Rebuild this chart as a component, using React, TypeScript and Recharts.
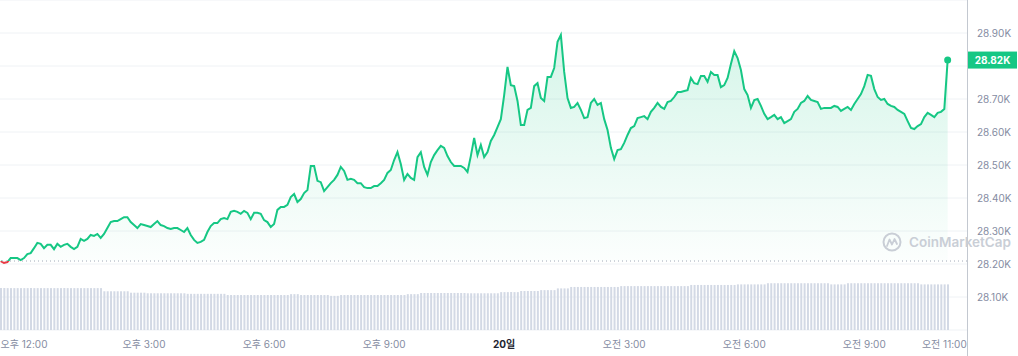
import {
  ComposedChart,
  Area,
  Bar,
  XAxis,
  YAxis,
  CartesianGrid,
  ReferenceLine,
  ReferenceDot,
} from "recharts";

// minutes relative to 오후 12:00 (19th); one point every 5 minutes
const START_MIN = -35;
const STEP_MIN = 5;

const PRICES = [
  28209, 28203, 28206, 28218, 28218, 28218, 28212, 28218, 28230, 28233,
  28248, 28264, 28261, 28248, 28258, 28258, 28245, 28261, 28252, 28258,
  28261, 28252, 28245, 28252, 28276, 28270, 28276, 28288, 28285, 28291,
  28279, 28291, 28309, 28327, 28330, 28330, 28336, 28342, 28342, 28327,
  28318, 28309, 28321, 28318, 28315, 28312, 28321, 28330, 28318, 28315,
  28309, 28306, 28309, 28309, 28303, 28297, 28309, 28288, 28273, 28264,
  28267, 28273, 28297, 28315, 28324, 28324, 28336, 28339, 28336, 28358,
  28361, 28358, 28352, 28361, 28355, 28336, 28355, 28355, 28352, 28333,
  28327, 28312, 28321, 28364, 28373, 28373, 28379, 28403, 28412, 28388,
  28397, 28415, 28424, 28497, 28497, 28452, 28448, 28421, 28433, 28445,
  28455, 28470, 28494, 28482, 28455, 28458, 28455, 28445, 28445, 28433,
  28430, 28430, 28436, 28436, 28445, 28455, 28476, 28485, 28515, 28539,
  28503, 28455, 28473, 28461, 28455, 28524, 28539, 28494, 28470, 28509,
  28530, 28545, 28558, 28552, 28527, 28509, 28497, 28497, 28497, 28491,
  28479, 28527, 28582, 28530, 28561, 28524, 28539, 28573, 28591, 28615,
  28639, 28712, 28797, 28742, 28739, 28694, 28621, 28621, 28667, 28673,
  28739, 28748, 28703, 28694, 28767, 28767, 28794, 28873, 28894, 28782,
  28703, 28673, 28676, 28688, 28667, 28642, 28645, 28688, 28700, 28682,
  28688, 28639, 28606, 28552, 28518, 28545, 28548, 28567, 28591, 28612,
  28618, 28642, 28645, 28648, 28639, 28661, 28673, 28688, 28676, 28670,
  28691, 28694, 28706, 28721, 28721, 28724, 28727, 28764, 28748, 28745,
  28770, 28770, 28752, 28782, 28773, 28773, 28736, 28742, 28764, 28806,
  28845, 28824, 28788, 28730, 28712, 28673, 28697, 28700, 28679, 28655,
  28639, 28645, 28652, 28639, 28645, 28627, 28633, 28639, 28661, 28670,
  28688, 28694, 28709, 28697, 28694, 28691, 28670, 28673, 28673, 28673,
  28679, 28676, 28664, 28670, 28676, 28667, 28685, 28700, 28715, 28739,
  28773, 28770, 28730, 28706, 28697, 28700, 28685, 28679, 28676, 28667,
  28661, 28655, 28633, 28612, 28609, 28618, 28624, 28645, 28658, 28652,
  28645, 28658, 28661, 28670, 28818,
];

// 24h volume, billions USD
const VOLUMES = [
  14.6, 14.6, 14.6, 14.6, 14.6, 14.6, 14.6, 14.6, 14.6, 14.6,
  14.6, 14.6, 14.6, 14.6, 14.6, 14.6, 14.6, 14.6, 14.6, 14.6,
  14.6, 14.6, 14.6, 14.6, 14.6, 14.6, 14.6, 14.6, 14.6, 14.6,
  14.6,
  13.5, 13.5, 13.5, 13.5, 13.5, 13.5, 13.5, 13.5,
  13.0, 13.0, 13.0, 13.0, 13.0,
  12.8, 12.8, 12.8, 12.8, 12.8, 12.8, 12.8, 12.8, 12.8, 12.8, 12.8, 12.8,
  12.6, 12.6, 12.6, 12.6, 12.6, 12.6, 12.6, 12.6, 12.6, 12.6, 12.6, 12.6,
  12.2, 12.2, 12.2, 12.2, 12.2, 12.2, 12.2, 12.2, 12.2, 12.2,
  12.2, 12.2, 12.2, 12.2, 12.2, 12.2, 12.2, 12.2, 12.2,
  12.5, 12.5, 12.5,
  12.2, 12.2, 12.2, 12.2, 12.2, 12.2, 12.2, 12.2, 12.2,
  11.9, 11.9, 11.9,
  12.2, 12.2, 12.2, 12.2, 12.2, 12.2, 12.2, 12.2, 12.2, 12.2,
  12.2, 12.2, 12.2, 12.2, 12.2, 12.2, 12.2, 12.2, 12.2, 12.2,
  12.5, 12.5, 12.5, 12.5,
  12.9, 12.9, 12.9, 12.9, 12.9, 12.9, 12.9, 12.9, 12.9, 12.9, 12.9, 12.9, 12.9, 12.9,
  12.8, 12.8, 12.8, 12.8, 12.8, 12.8, 12.8, 12.8, 12.8, 12.8,
  13.2, 13.2, 13.2, 13.2, 13.2, 13.2,
  13.6, 13.6, 13.6, 13.6, 13.6, 13.6,
  13.9, 13.9, 13.9, 13.9, 13.9,
  14.5, 14.5, 14.5, 14.5,
  15.0, 15.0, 15.0, 15.0, 15.0, 15.0, 15.0, 15.0, 15.0, 15.0, 15.0, 15.0, 15.0, 15.0, 15.0,
  15.3, 15.3, 15.3, 15.3, 15.3, 15.3, 15.3, 15.3, 15.3, 15.3,
  15.3, 15.3, 15.3, 15.3, 15.3, 15.3, 15.3, 15.3, 15.3, 15.3, 15.3,
  15.7, 15.7, 15.7, 15.7, 15.7, 15.7, 15.7, 15.7, 15.7, 15.7, 15.7, 15.7, 15.7, 15.7,
  15.9, 15.9, 15.9, 15.9, 15.9, 15.9, 15.9, 15.9, 15.9,
  16.3, 16.3, 16.3, 16.3, 16.3, 16.3, 16.3, 16.3, 16.3, 16.3,
  16.3, 16.3, 16.3, 16.3, 16.3, 16.3, 16.3, 16.3, 16.3,
  15.9, 15.9, 15.9, 15.9, 15.9,
  16.3, 16.3, 16.3, 16.3, 16.3, 16.3, 16.3, 16.3, 16.3, 16.3, 16.3,
  16.3, 16.3, 16.3, 16.3, 16.3, 16.3, 16.3, 16.3, 16.3, 16.3, 16.3,
  15.9, 15.9, 15.9, 15.9, 15.9, 15.9, 15.9, 15.9, 15.9,
];

const TIME_TICKS = [0, 180, 360, 540, 720, 900, 1080, 1260, 1380];
const TIME_LABELS = [
  "오후 12:00",
  "오후 3:00",
  "오후 6:00",
  "오후 9:00",
  "20일",
  "오전 3:00",
  "오전 6:00",
  "오전 9:00",
  "오전 11:00",
];
const PRICE_TICKS = [28100, 28200, 28300, 28400, 28500, 28600, 28700, 28800, 28900];

const GREEN = "#16c784";
const RED = "#ea3943";
const GREY = "#858ca2";
const FONT = "Inter, 'Noto Sans CJK KR', sans-serif";

const data = PRICES.map((price, i) => ({
  t: START_MIN + i * STEP_MIN,
  price,
  volume: VOLUMES[i],
}));

const OPEN = PRICES[0];
const LAST = data[data.length - 1];
const maxP = Math.max(...PRICES);
const minP = Math.min(...PRICES);
const splitOffset = (maxP - OPEN) / (maxP - minP);

const fmtK = (v: number) => `${(v / 1000).toFixed(2)}K`;

function TimeTick({ x, y, payload }: any) {
  const label = TIME_LABELS[TIME_TICKS.indexOf(payload.value)];
  const isDay = label === "20일";
  return (
    <text
      x={x}
      y={y}
      dy={10}
      textAnchor="middle"
      fontSize={10}
      fontFamily={FONT}
      fontWeight={isDay ? 700 : 400}
      fill={isDay ? "#222531" : GREY}
    >
      {label}
    </text>
  );
}

// the current-price badge covers the tick label it sits on
function PriceTick({ x, y, payload }: any) {
  if (Math.abs(payload.value - LAST.price) < 30) return null;
  return (
    <text x={x} y={y} dy={3.5} fontSize={10} fontFamily={FONT} fill={GREY}>
      {fmtK(payload.value)}
    </text>
  );
}

function PriceBadge({ viewBox }: any) {
  if (!viewBox) return null;
  const left = viewBox.x + viewBox.width + 1;
  return (
    <g>
      <rect x={left} y={viewBox.y - 8.5} width={49} height={17} fill={GREEN} />
      <text
        x={left + 24.5}
        y={viewBox.y + 3.5}
        textAnchor="middle"
        fontSize={10}
        fontWeight={700}
        fontFamily={FONT}
        fill="#fff"
      >
        {fmtK(LAST.price)}
      </text>
    </g>
  );
}

export default function App() {
  return (
    <div style={{ position: "relative", width: 1018, height: 356, background: "#fff" }}>
      <style>{"body{margin:0}"}</style>
      <ComposedChart
        width={1018}
        height={356}
        data={data}
        margin={{ top: 0, right: 0, bottom: 0, left: 0 }}
      >
        <defs>
          <linearGradient id="lineGrad" x1="0" y1="0" x2="0" y2="1">
            <stop offset={splitOffset} stopColor={GREEN} />
            <stop offset={splitOffset} stopColor={RED} />
          </linearGradient>
          <linearGradient id="fillGrad" x1="0" y1="0" x2="0" y2="1">
            <stop offset="0%" stopColor={GREEN} stopOpacity={0.3} />
            <stop offset="100%" stopColor={GREEN} stopOpacity={0.02} />
          </linearGradient>
        </defs>
        <CartesianGrid yAxisId="price" vertical={false} stroke="#eff2f5" />
        <XAxis
          dataKey="t"
          type="number"
          domain={[-36, 1414]}
          allowDataOverflow
          ticks={TIME_TICKS}
          tick={<TimeTick />}
          axisLine={false}
          tickLine={false}
          height={26}
          interval={0}
        />
        <YAxis
          yAxisId="price"
          orientation="right"
          domain={[28000, 29000]}
          ticks={PRICE_TICKS}
          tick={<PriceTick />}
          axisLine={false}
          tickLine={false}
          tickMargin={4}
          width={51}
          interval={0}
        />
        <YAxis yAxisId="vol" hide domain={[0, 115]} />
        <Bar
          yAxisId="vol"
          dataKey="volume"
          fill="#d3d9e5"
          barSize={2}
          isAnimationActive={false}
        />
        <ReferenceLine
          yAxisId="price"
          y={OPEN}
          stroke="#a3aab8"
          strokeDasharray="1 3"
        />
        <Area
          yAxisId="price"
          dataKey="price"
          type="linear"
          stroke="url(#lineGrad)"
          strokeWidth={2}
          fill="url(#fillGrad)"
          baseValue={OPEN}
          dot={false}
          activeDot={false}
          isAnimationActive={false}
        />
        <ReferenceDot
          yAxisId="price"
          x={LAST.t}
          y={LAST.price}
          r={3.5}
          fill={GREEN}
          stroke="none"
        />
        <ReferenceLine
          yAxisId="price"
          y={LAST.price}
          stroke="none"
          label={<PriceBadge />}
        />
      </ComposedChart>
      <div
        style={{
          position: "absolute",
          left: 967,
          top: 0,
          width: 1,
          height: 356,
          background: "#c3c8d0",
        }}
      />
      <svg
        width={1018}
        height={356}
        style={{ position: "absolute", left: 0, top: 0, pointerEvents: "none" }}
      >
        <circle cx={892} cy={242} r={8.5} fill="none" stroke="#c9ced6" strokeWidth={2} />
        <path
          d="M887 246 L889.5 239.5 L892 244.5 L894.5 239 L897 244"
          fill="none"
          stroke="#c9ced6"
          strokeWidth={1.8}
          strokeLinejoin="round"
          strokeLinecap="round"
        />
        <text x={909} y={246.5} fontSize={13.5} fontWeight={600} fontFamily={FONT} fill="#c9ced6">
          CoinMarketCap
        </text>
      </svg>
    </div>
  );
}
